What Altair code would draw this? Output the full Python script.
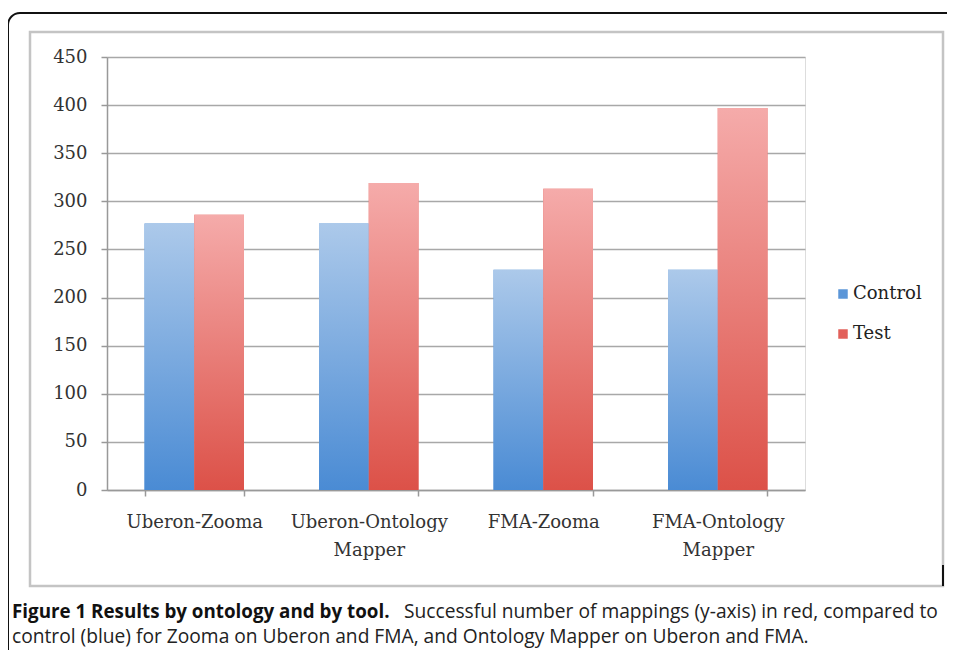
import altair as alt
import pandas as pd

categories = ["Uberon-Zooma", "Uberon-Ontology Mapper", "FMA-Zooma", "FMA-Ontology Mapper"]
series_names = ["Control", "Test"]
control_values = [277, 277, 229, 229]
test_values = [286, 319, 313, 397]
y_ticks = [0, 50, 100, 150, 200, 250, 300, 350, 400, 450]

caption_bold = "Figure 1 Results by ontology and by tool."
caption_rest = "Successful number of mappings (y-axis) in red, compared to"
caption_line2 = "control (blue) for Zooma on Uberon and FMA, and Ontology Mapper on Uberon and FMA."

rows = []
for c, v in zip(categories, control_values):
    rows.append({"category": c, "series": "Control", "value": v})
for c, v in zip(categories, test_values):
    rows.append({"category": c, "series": "Test", "value": v})
df = pd.DataFrame(rows)

W, H = 698, 433
SERIF = "DejaVu Serif"
SANS = "Open Sans"

x_enc = alt.X("category:N", sort=categories, title=None,
              scale=alt.Scale(paddingInner=0.43, paddingOuter=0.215),
              axis=alt.Axis(labelAngle=0, labelFont=SERIF, labelFontSize=18,
                            labelColor="#333333", labelPadding=17,
                            labelExpr="split(datum.label, ' ')", labelLineHeight=28,
                            tickBand="extent", tickSize=6, tickColor="#999999",
                            domainColor="#999999", domainWidth=1.5, tickWidth=1.5,
                            grid=False))
xo_enc = alt.XOffset("series:N", scale=alt.Scale(domain=series_names))
y_enc = alt.Y("value:Q", title=None,
              scale=alt.Scale(domain=[0, 450], nice=False),
              axis=alt.Axis(values=y_ticks, labelFont=SERIF, labelFontSize=18,
                            labelColor="#333333", labelPadding=14, tickSize=6,
                            tickColor="#999999", domainColor="#999999",
                            domainWidth=1.5, tickWidth=1.5,
                            grid=True, gridColor="#a8a8a8", gridWidth=1.5))

base_bars = alt.Chart(df).mark_bar().encode(
    x=x_enc, xOffset=xo_enc, y=y_enc,
    color=alt.Color("series:N", scale=alt.Scale(domain=series_names,
                                                range=["#5b96d8", "#e2605a"]),
                    legend=alt.Legend(title=None, orient="none", legendX=727, legendY=228,
                                      labelFont=SERIF, labelFontSize=18,
                                      labelColor="#222222", symbolType="square",
                                      symbolSize=90, rowPadding=22, labelOffset=1,
                                      symbolStrokeWidth=0)),
)


def grad(top, bottom):
    return alt.Gradient(gradient="linear",
                        stops=[alt.GradientStop(color=top, offset=0),
                               alt.GradientStop(color=bottom, offset=1)],
                        x1=0, x2=0, y1=0, y2=1)


ctrl_bars = alt.Chart(df).transform_filter(alt.datum.series == "Control").mark_bar(
    fill=grad("#acc9ea", "#4a8bd4")).encode(x=x_enc, xOffset=xo_enc, y=y_enc)
test_bars = alt.Chart(df).transform_filter(alt.datum.series == "Test").mark_bar(
    fill=grad("#f5abaa", "#dc5148")).encode(x=x_enc, xOffset=xo_enc, y=y_enc)

one = pd.DataFrame({"k": [0]})

grey_frame = alt.Chart(one).mark_rect(fill=None, stroke="#c4c4c4", strokeWidth=2.5, clip=False).encode(
    x=alt.value(-77), x2=alt.value(836), y=alt.value(-25), y2=alt.value(529))
outer_frame = alt.Chart(one).mark_rect(fill=None, stroke="#111111", strokeWidth=2,
                                      cornerRadius=12, clip=False).encode(
    x=alt.value(-99), x2=alt.value(1300), y=alt.value(-44), y2=alt.value(640))
tick_mark = alt.Chart(one).mark_rule(color="#111111", strokeWidth=2).encode(
    x=alt.value(836), y=alt.value(508), y2=alt.value(529))

cap1 = alt.Chart(one).mark_text(text=caption_bold, font=SANS, fontSize=18.8, fontWeight="bold",
                                align="left", baseline="alphabetic", color="#111111").encode(
    x=alt.value(-95), y=alt.value(561))
cap2 = alt.Chart(one).mark_text(text=caption_rest, font=SANS, fontSize=19.2,
                                align="left", baseline="alphabetic", color="#222222").encode(
    x=alt.value(297), y=alt.value(561))
cap3 = alt.Chart(one).mark_text(text=caption_line2, font=SANS, fontSize=19.2,
                                align="left", baseline="alphabetic", color="#222222").encode(
    x=alt.value(-95), y=alt.value(586))

chart = alt.layer(outer_frame, grey_frame, base_bars, ctrl_bars, test_bars,
                  tick_mark, cap1, cap2, cap3).properties(
    width=W, height=H,
    autosize=alt.AutoSizeParams(type="none"),
    padding={"left": 99, "top": 49, "right": 142, "bottom": 160},
).configure_view(stroke=None).configure(background="white")

chart.save("out.html", embed_options={"renderer": "svg", "actions": False})
